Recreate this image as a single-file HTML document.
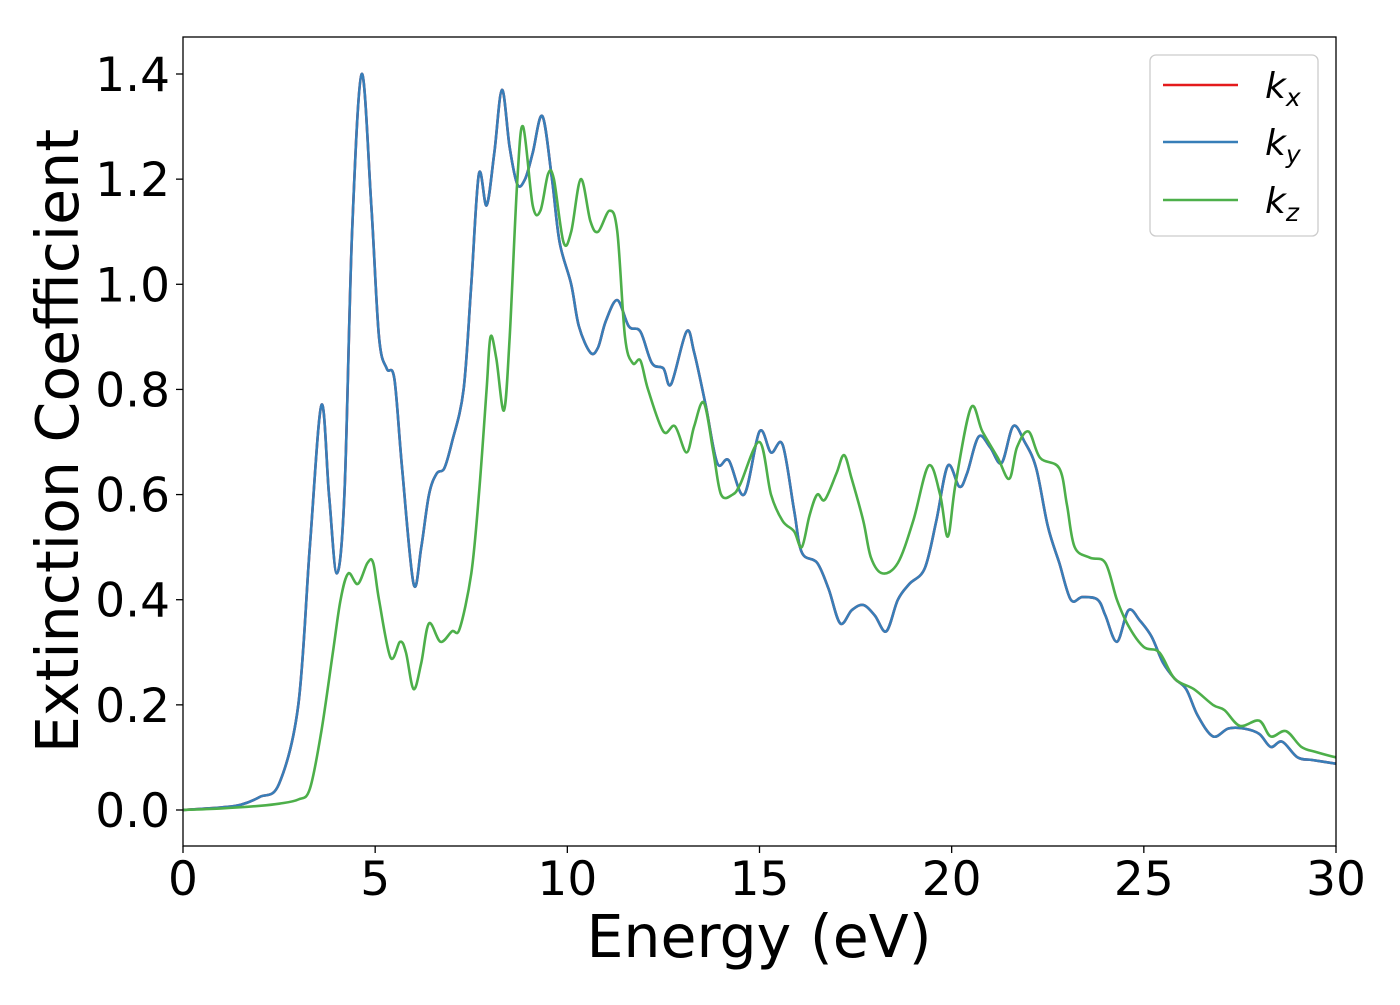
<!DOCTYPE html>
<html><head><meta charset="utf-8"><style>
body{margin:0;background:#fff;}
svg text{font-family:"DejaVu Sans","Liberation Sans",sans-serif;fill:#000;}
</style></head><body>
<svg id="chart" width="1400" height="1000" viewBox="0 0 1400 1000" xmlns="http://www.w3.org/2000/svg">
<rect x="0" y="0" width="1400" height="1000" fill="#fff"/>
<g id="series"></g>
<rect x="183" y="37" width="1153" height="809" fill="none" stroke="#000" stroke-width="1.3"/>
<g id="xticks"></g>
<g id="yticks"></g>
<text x="759" y="957" font-size="58.5" text-anchor="middle">Energy (eV)</text>
<text transform="translate(78,441) rotate(-90)" font-size="58.5" text-anchor="middle">Extinction Coefficient</text>
<g>
<rect x="1150" y="55" width="168" height="181" rx="6" fill="#fff" fill-opacity="0.8" stroke="#ccc" stroke-width="1.3"/>
<line x1="1163" y1="85" x2="1238" y2="85" stroke="#e41a1c" stroke-width="2.6"/>
<text x="1265" y="98" font-size="36" font-style="italic">k<tspan font-size="25" dy="8">x</tspan></text>
<line x1="1163" y1="142" x2="1238" y2="142" stroke="#377eb8" stroke-width="2.6"/>
<text x="1265" y="155" font-size="36" font-style="italic">k<tspan font-size="25" dy="8">y</tspan></text>
<line x1="1163" y1="200" x2="1238" y2="200" stroke="#4daf4a" stroke-width="2.6"/>
<text x="1265" y="213" font-size="36" font-style="italic">k<tspan font-size="25" dy="8">z</tspan></text>
</g>
</svg>
<script>
const xTicks=[0,5,10,15,20,25,30];
const yTicks=[0.0,0.2,0.4,0.6,0.8,1.0,1.2,1.4];
const energyXY=[0,1,1.5,2,2.5,3,3.3,3.6,3.8,4.0,4.2,4.4,4.65,4.9,5.1,5.3,5.5,5.7,6.0,6.2,6.4,6.6,6.8,7.0,7.3,7.5,7.7,7.9,8.1,8.3,8.5,8.7,8.9,9.1,9.35,9.6,9.8,10.1,10.3,10.6,10.8,11.0,11.3,11.6,11.9,12.2,12.5,12.7,13.1,13.3,13.6,13.9,14.2,14.6,15.0,15.3,15.6,15.9,16.1,16.5,16.8,17.1,17.4,17.7,18.0,18.3,18.6,18.9,19.3,19.6,19.9,20.2,20.4,20.7,21.0,21.3,21.6,21.9,22.2,22.5,22.8,23.1,23.4,23.8,24.0,24.3,24.6,24.9,25.2,25.5,25.8,26.1,26.4,26.8,27.2,27.6,28.0,28.3,28.6,29.0,29.4,30];
const kx=[0,0.005,0.01,0.025,0.05,0.2,0.5,0.77,0.6,0.45,0.6,1.1,1.4,1.15,0.9,0.84,0.82,0.65,0.43,0.5,0.6,0.64,0.65,0.7,0.8,1.0,1.21,1.15,1.25,1.37,1.26,1.19,1.2,1.25,1.32,1.2,1.08,1.0,0.92,0.87,0.88,0.93,0.97,0.92,0.91,0.85,0.84,0.81,0.91,0.87,0.77,0.66,0.665,0.6,0.72,0.68,0.695,0.57,0.49,0.47,0.42,0.355,0.38,0.39,0.37,0.34,0.4,0.43,0.46,0.55,0.655,0.615,0.64,0.71,0.69,0.66,0.73,0.7,0.65,0.54,0.47,0.4,0.405,0.4,0.37,0.32,0.38,0.36,0.33,0.28,0.25,0.23,0.18,0.14,0.155,0.155,0.145,0.12,0.13,0.1,0.095,0.088];
const ky=[0,0.005,0.01,0.025,0.05,0.2,0.5,0.77,0.6,0.45,0.6,1.1,1.4,1.15,0.9,0.84,0.82,0.65,0.43,0.5,0.6,0.64,0.65,0.7,0.8,1.0,1.21,1.15,1.25,1.37,1.26,1.19,1.2,1.25,1.32,1.2,1.08,1.0,0.92,0.87,0.88,0.93,0.97,0.92,0.91,0.85,0.84,0.81,0.91,0.87,0.77,0.66,0.665,0.6,0.72,0.68,0.695,0.57,0.49,0.47,0.42,0.355,0.38,0.39,0.37,0.34,0.4,0.43,0.46,0.55,0.655,0.615,0.64,0.71,0.69,0.66,0.73,0.7,0.65,0.54,0.47,0.4,0.405,0.4,0.37,0.32,0.38,0.36,0.33,0.28,0.25,0.23,0.18,0.14,0.155,0.155,0.145,0.12,0.13,0.1,0.095,0.088];
const energyZ=[0,1,2,2.5,3,3.3,3.6,3.9,4.1,4.3,4.55,4.8,4.95,5.1,5.4,5.65,5.8,6.0,6.2,6.4,6.7,7.0,7.2,7.5,7.7,7.9,8.0,8.15,8.35,8.5,8.7,8.85,9.1,9.3,9.5,9.65,9.9,10.1,10.35,10.6,10.8,11.1,11.3,11.5,11.7,11.9,12.1,12.5,12.8,13.1,13.3,13.55,13.8,14.0,14.3,14.5,15.0,15.3,15.6,15.9,16.1,16.3,16.5,16.7,17.0,17.2,17.4,17.7,17.9,18.2,18.6,19.0,19.4,19.7,19.9,20.1,20.5,20.8,21.2,21.5,21.7,22.0,22.3,22.8,23.0,23.2,23.6,24.0,24.3,24.6,25.0,25.4,25.8,26.3,26.8,27.1,27.5,28.0,28.3,28.7,29.1,29.5,30];
const kz=[0,0.003,0.008,0.012,0.02,0.04,0.15,0.3,0.4,0.45,0.43,0.47,0.47,0.4,0.29,0.32,0.3,0.23,0.28,0.355,0.32,0.34,0.345,0.45,0.6,0.8,0.9,0.86,0.76,0.9,1.2,1.3,1.15,1.14,1.21,1.2,1.08,1.1,1.2,1.12,1.1,1.14,1.1,0.9,0.85,0.855,0.8,0.72,0.73,0.68,0.73,0.775,0.68,0.6,0.6,0.62,0.7,0.6,0.55,0.53,0.5,0.56,0.6,0.59,0.64,0.675,0.63,0.55,0.48,0.45,0.47,0.55,0.655,0.6,0.52,0.62,0.765,0.72,0.67,0.63,0.69,0.72,0.67,0.65,0.58,0.5,0.48,0.47,0.4,0.35,0.31,0.3,0.25,0.23,0.2,0.19,0.16,0.17,0.14,0.15,0.12,0.11,0.1];

const X0=183,X1=1336,Y0=810,Y14=74;
function xs(e){return X0+(e-0)/(30-0)*(X1-X0);}
function ys(k){return Y0+(k/1.4)*(Y14-Y0);}
const NS="http://www.w3.org/2000/svg";
function smoothPath(ex,ky){
  const p=ex.map((e,i)=>[xs(e),ys(ky[i])]);
  let d="M"+p[0][0].toFixed(1)+","+p[0][1].toFixed(1);
  for(let i=0;i<p.length-1;i++){
    const a=p[Math.max(0,i-1)],b=p[i],c=p[i+1],n=p[Math.min(p.length-1,i+2)];
    const c1=[b[0]+(c[0]-a[0])/6,b[1]+(c[1]-a[1])/6];
    const c2=[c[0]-(n[0]-b[0])/6,c[1]-(n[1]-b[1])/6];
    d+=" C"+c1[0].toFixed(1)+","+c1[1].toFixed(1)+" "+c2[0].toFixed(1)+","+c2[1].toFixed(1)+" "+c[0].toFixed(1)+","+c[1].toFixed(1);
  }
  return d;
}
const g=document.getElementById("series");
const clip=document.createElementNS(NS,"clipPath");clip.setAttribute("id","pc");
const cr=document.createElementNS(NS,"rect");cr.setAttribute("x",183);cr.setAttribute("y",37);cr.setAttribute("width",1153);cr.setAttribute("height",809);
clip.appendChild(cr);document.getElementById("chart").appendChild(clip);
g.setAttribute("clip-path","url(#pc)");
[[energyXY,kx,"#e41a1c","kx-line"],[energyXY,ky,"#377eb8","ky-line"],[energyZ,kz,"#4daf4a","kz-line"]].forEach(s=>{
  const path=document.createElementNS(NS,"path");
  path.setAttribute("d",smoothPath(s[0],s[1]));
  path.setAttribute("fill","none");path.setAttribute("stroke",s[2]);path.setAttribute("stroke-width","2.6");
  
  
  g.appendChild(path);
});
const gx=document.getElementById("xticks");
xTicks.forEach(t=>{
  const l=document.createElementNS(NS,"line");
  l.setAttribute("x1",xs(t));l.setAttribute("x2",xs(t));l.setAttribute("y1",846);l.setAttribute("y2",853);l.setAttribute("stroke","#000");l.setAttribute("stroke-width","1.3");
  
  
  gx.appendChild(l);
  const tx=document.createElementNS(NS,"text");
  tx.setAttribute("x",xs(t));tx.setAttribute("y",895);tx.setAttribute("font-size","47");tx.setAttribute("text-anchor","middle");
  tx.textContent=t;
  
  
  gx.appendChild(tx);
});
const gy=document.getElementById("yticks");
yTicks.forEach(t=>{
  const l=document.createElementNS(NS,"line");
  l.setAttribute("x1",176);l.setAttribute("x2",183);l.setAttribute("y1",ys(t));l.setAttribute("y2",ys(t));l.setAttribute("stroke","#000");l.setAttribute("stroke-width","1.3");
  
  
  gy.appendChild(l);
  const tx=document.createElementNS(NS,"text");
  tx.setAttribute("x",170);tx.setAttribute("y",ys(t)+17);tx.setAttribute("font-size","47");tx.setAttribute("text-anchor","end");
  tx.textContent=t.toFixed(1);
  
  
  gy.appendChild(tx);
});
</script>
</body></html>
